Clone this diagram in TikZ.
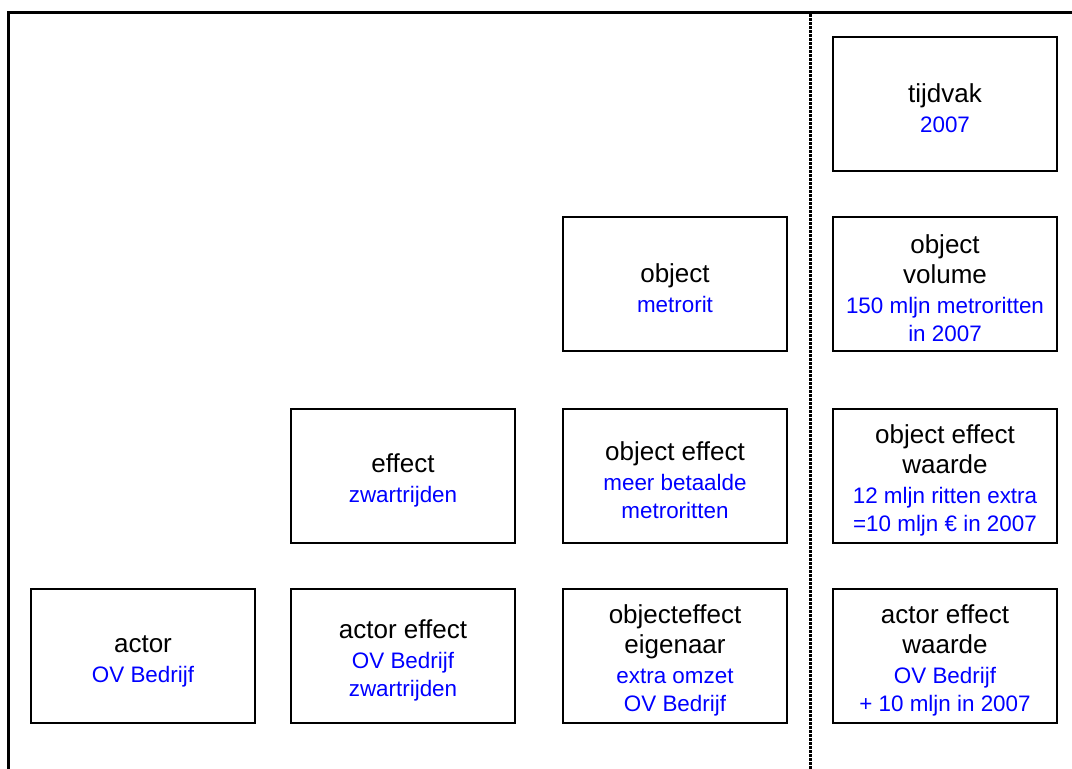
\documentclass[tikz,border=0pt]{standalone}
\usepackage{fontspec}
\setmainfont{Liberation Sans}
\begin{document}
\begin{tikzpicture}[x=1pt,y=-1pt,
  card/.style={draw=black, line width=1.8pt, minimum width=224pt, minimum height=134pt,
    inner sep=0pt, align=center, font=\fontsize{26}{30}\selectfont, text=black}]
\newcommand{\blu}[1]{{\color{blue}\fontsize{22.4}{28}\selectfont #1}}
% tall strut on the first line pushes each block a little below centre
\newcommand{\up}{\rule{0pt}{28pt}}
\useasboundingbox (0,0) rectangle (1072,769);
% outer frame and the dotted divider
\draw[line width=3pt] (8.5,769) -- (8.5,12.5) -- (1072,12.5);
\draw[line width=3pt, dash pattern=on 2.5pt off 1.5pt] (810,14) -- (810,769);
% right column
\node[card] (tijd) at (945,104) {\up tijdvak\\\blu{2007}};
\node[card] (vol) at (945,284) {\up object\\volume\\\blu{150 mljn metroritten}\\[-2pt]\blu{in 2007}};
\node[card] (oew) at (945,476) {\up object effect\\waarde\\\blu{12 mljn ritten extra}\\[-2pt]\blu{=10 mljn € in 2007}};
\node[card] (aew) at (945,656) {\up actor effect\\waarde\\\blu{OV Bedrijf}\\[-2pt]\blu{+ 10 mljn in 2007}};
% third column
\node[card] (obj) at (675,284) {\up object\\\blu{metrorit}};
\node[card] (oe) at (675,476) {\up object effect\\\blu{meer betaalde}\\[-2pt]\blu{metroritten}};
\node[card] (oee) at (675,656) {\up objecteffect\\eigenaar\\\blu{extra omzet}\\[-2pt]\blu{OV Bedrijf}};
% second column
\node[card] (eff) at (403,476) {\up effect\\\blu{zwartrijden}};
\node[card] (ae) at (403,656) {\up actor effect\\\blu{OV Bedrijf}\\[-2pt]\blu{zwartrijden}};
% first column
\node[card] (act) at (143,656) {\up actor\\\blu{OV Bedrijf}};
\end{tikzpicture}
\end{document}
